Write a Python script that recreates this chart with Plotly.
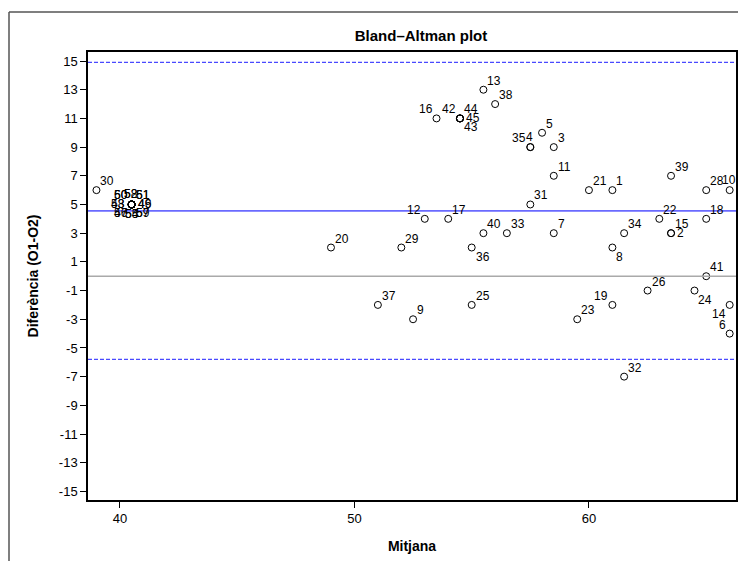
import plotly.graph_objects as go

# ---- data ----
ids = [1, 2, 3, 4, 5, 6, 7, 8, 9, 10, 11, 12, 13, 14, 15, 16, 17, 18, 19, 20,
       21, 22, 23, 24, 25, 26, 28, 29, 30, 31, 32, 33, 34, 35, 36, 37, 38, 39, 40,
       41, 42, 43, 44, 45,
       46, 47, 48, 49, 50, 51, 52, 53, 54, 55, 56, 57, 58, 59, 60, 61]
mitjana = [61, 63.5, 58.5, 57.5, 58, 66, 58.5, 61, 52.5, 66, 58.5, 53, 55.5, 66, 63.5, 53.5, 54, 65, 61, 49,
           60, 63, 59.5, 64.5, 55, 62.5, 65, 52, 39, 57.5, 61.5, 56.5, 61.5, 57.5, 55, 51, 56, 63.5, 55.5,
           65, 54.5, 54.5, 54.5, 54.5,
           40.5, 40.5, 40.5, 40.5, 40.5, 40.5, 40.5, 40.5, 40.5, 40.5, 40.5, 40.5, 40.5, 40.5, 40.5, 40.5]
diferencia = [6, 3, 9, 9, 10, -4, 3, 2, -3, 6, 7, 4, 13, -2, 3, 11, 4, 4, -2, 2,
              6, 4, -3, -1, -2, -1, 6, 2, 6, 5, -7, 3, 3, 9, 2, -2, 12, 7, 3,
              0, 11, 11, 11, 11,
              5, 5, 5, 5, 5, 5, 5, 5, 5, 5, 5, 5, 5, 5, 5, 5]

mean_diff = 4.55
upper_loa = 14.9
lower_loa = -5.8

y_ticks = [15, 13, 11, 9, 7, 5, 3, 1, -1, -3, -5, -7, -9, -11, -13, -15]
x_ticks = [40, 50, 60]

# ---- label placement (style only) ----
label_pos = {
    1: "TR", 2: "R", 3: "TR", 4: "T", 5: "TR", 6: "TL", 7: "TR", 8: "BR", 9: "TR", 10: "T",
    11: "TR", 12: "TL", 13: "TR", 14: "BL", 15: "TR", 16: "TL", 17: "TR", 18: "TR", 19: "TL", 20: "TR",
    21: "TR", 22: "TR", 23: "TR", 24: "BR", 25: "TR", 26: "TR", 28: "TR", 29: "TR", 30: "TR", 31: "TR",
    32: "TR", 33: "TR", 34: "TR", 35: "TL", 36: "BR", 37: "TR", 38: "TR", 39: "TR", 40: "TR", 41: "TR",
    42: "TL", 43: "BR", 44: "TR", 45: "R",
    60: "TL", 50: "TL", 58: "T", 52: "T", 61: "TR", 51: "TR", 48: "L", 53: "L",
    49: "R", 46: "R", 56: "BL", 47: "BL", 55: "B", 54: "B", 59: "BR", 57: "BR",
}
pos_style = {
    "TR": ("left", 3, 9),
    "R": ("left", 5, 0),
    "BR": ("left", 3, -9),
    "T": ("center", -1, 10),
    "TL": ("right", -3, 9),
    "L": ("right", -6, 0),
    "BL": ("right", -3, -9),
    "B": ("center", 0, -10),
}

font_family = "Arial, Liberation Sans, Helvetica, sans-serif"

W, H = 738, 561
L, R, T, B = 88, 2, 52, 61
pw, ph = W - L - R, H - T - B

def px_x(x):  # figure pixel -> paper x
    return (x - L) / pw

def px_y(y):  # figure pixel -> paper y
    return (H - B - y) / ph

fig = go.Figure()
fig.add_trace(go.Scatter(
    x=mitjana, y=diferencia, mode="markers",
    marker=dict(symbol="circle-open", size=7, color="black", line=dict(width=1, color="black")),
    showlegend=False, hoverinfo="x+y",
))

annotations = []
for i, xv, yv in zip(ids, mitjana, diferencia):
    anchor, dx, dy = pos_style[label_pos.get(i, "TR")]
    annotations.append(dict(
        x=xv, y=yv, xref="x", yref="y", text=str(i), showarrow=False,
        xanchor=anchor, yanchor="middle", xshift=dx, yshift=dy,
        font=dict(family=font_family, size=12, color="black"), borderpad=0,
    ))

shapes = [
    dict(type="line", xref="paper", yref="y", x0=0, x1=1, y0=upper_loa, y1=upper_loa,
         line=dict(color="#4a4aff", width=1.3, dash="4px,2px")),
    dict(type="line", xref="paper", yref="y", x0=0, x1=1, y0=lower_loa, y1=lower_loa,
         line=dict(color="#4a4aff", width=1.3, dash="4px,2px")),
    dict(type="line", xref="paper", yref="y", x0=0, x1=1, y0=mean_diff, y1=mean_diff,
         line=dict(color="#6a6aff", width=1.8)),
    dict(type="line", xref="paper", yref="y", x0=0, x1=1, y0=0, y1=0,
         line=dict(color="#aaaaaa", width=1.5)),
    # outer frame (top and left edges)
    dict(type="line", xref="paper", yref="paper", x0=px_x(9), x1=px_x(738), y0=px_y(12), y1=px_y(12),
         line=dict(color="#555555", width=1.5)),
    dict(type="line", xref="paper", yref="paper", x0=px_x(9), x1=px_x(9), y0=px_y(12), y1=px_y(H),
         line=dict(color="#555555", width=1.5)),
]

fig.update_layout(
    width=W, height=H,
    margin=dict(l=L, r=R, t=T, b=B, autoexpand=False),
    paper_bgcolor="white", plot_bgcolor="white",
    title=dict(text="<b>Bland\u2013Altman plot</b>", x=421 / W, xanchor="center",
               y=1 - 36 / H, yanchor="middle",
               font=dict(family=font_family, size=15, color="black")),
    font=dict(family=font_family, color="black"),
    shapes=shapes,
    annotations=annotations,
)
fig.update_xaxes(
    range=[38.64, 66.27], tickvals=x_ticks, ticktext=[str(v) for v in x_ticks],
    ticks="outside", ticklen=6, tickwidth=1, tickcolor="black",
    showline=True, linecolor="black", linewidth=1.5, mirror=True,
    showgrid=False, zeroline=False, automargin=False,
    tickfont=dict(size=13, family=font_family),
    title=dict(text="<b>Mitjana</b>", font=dict(size=14, family=font_family), standoff=16),
)
fig.update_yaxes(
    range=[-15.6, 15.63], tickvals=y_ticks, ticktext=[str(v) for v in y_ticks],
    ticks="outside", ticklen=6, tickwidth=1, tickcolor="black",
    showline=True, linecolor="black", linewidth=1.5, mirror=True,
    showgrid=False, zeroline=False, automargin=False,
    tickfont=dict(size=13, family=font_family),
    title=dict(text="<b>Diferència (O1-O2)</b>", font=dict(size=14, family=font_family), standoff=17),
)

fig.write_html(
    "out.html",
    config={"displayModeBar": False},
    post_script="document.body.style.margin='0';document.body.style.overflow='hidden';",
)
